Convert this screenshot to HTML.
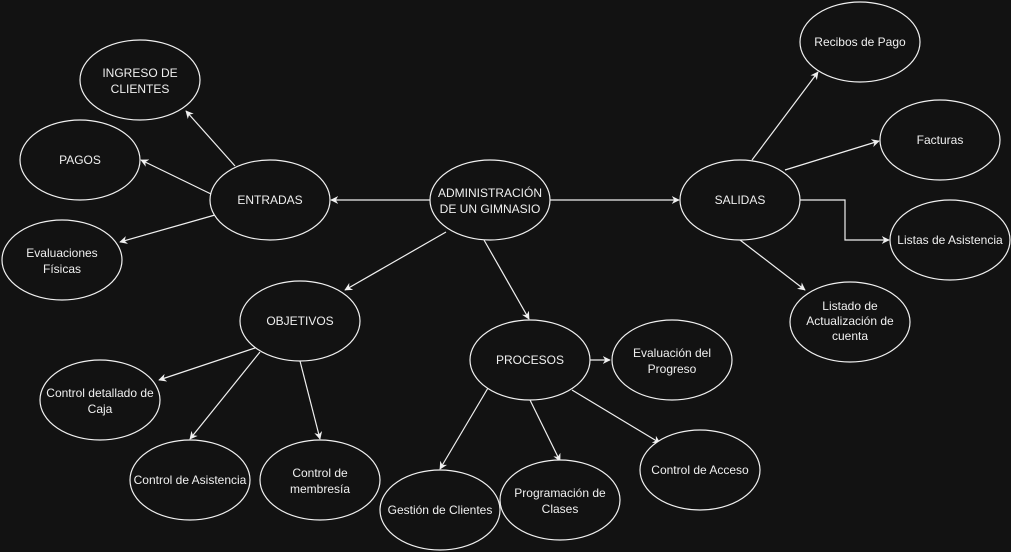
<!DOCTYPE html>
<html><head><meta charset="utf-8"><style>
html,body{margin:0;padding:0;background:#121212;}
svg{display:block}
text{font-family:"Liberation Sans",sans-serif;font-size:12px;fill:#f0f0f0;text-anchor:middle}
</style></head><body>
<svg width="1011" height="552" viewBox="0 0 1011 552" xmlns="http://www.w3.org/2000/svg">
<defs>
<marker id="a" viewBox="0 0 10 10" refX="9" refY="5" markerWidth="8" markerHeight="8" orient="auto" markerUnits="userSpaceOnUse">
<path d="M0,0 L10,5 L0,10 L3,5 z" fill="#f0f0f0"/>
</marker>
</defs>
<rect width="1011" height="552" fill="#121212"/>
<g stroke="#f0f0f0" stroke-width="1.2" fill="none" marker-end="url(#a)">
<line x1="430" y1="200" x2="331" y2="200"/>
<line x1="550" y1="200" x2="679" y2="200"/>
<line x1="235" y1="166" x2="186" y2="111"/>
<line x1="211" y1="194" x2="141" y2="160"/>
<line x1="215" y1="215" x2="120" y2="242"/>
<line x1="752" y1="160" x2="818" y2="72"/>
<line x1="785" y1="170" x2="879" y2="141"/>
<polyline points="800,200 845,200 845,240 889,240"/>
<line x1="740" y1="240" x2="805" y2="290"/>
<line x1="446" y1="232" x2="345" y2="290"/>
<line x1="484" y1="240" x2="529" y2="319"/>
<line x1="255" y1="348" x2="159" y2="380"/>
<line x1="260" y1="352" x2="190" y2="439"/>
<line x1="300" y1="361" x2="320" y2="439"/>
<line x1="590" y1="360" x2="610" y2="360"/>
<line x1="488" y1="388" x2="440" y2="469"/>
<line x1="530" y1="400" x2="560" y2="461"/>
<line x1="572" y1="390" x2="660" y2="443"/>
</g>
<g stroke="#f0f0f0" stroke-width="1.2" fill="#121212">
<ellipse cx="490" cy="200" rx="60" ry="40"/>
<ellipse cx="270" cy="200" rx="60" ry="40"/>
<ellipse cx="740" cy="200" rx="60" ry="40"/>
<ellipse cx="140" cy="80" rx="60" ry="40"/>
<ellipse cx="80" cy="160" rx="60" ry="40"/>
<ellipse cx="62" cy="260" rx="60" ry="40"/>
<ellipse cx="860" cy="42" rx="60" ry="40"/>
<ellipse cx="940" cy="140" rx="60" ry="40"/>
<ellipse cx="950" cy="240" rx="60" ry="40"/>
<ellipse cx="850" cy="322" rx="60" ry="40"/>
<ellipse cx="300" cy="321" rx="60" ry="40"/>
<ellipse cx="530" cy="360" rx="60" ry="40"/>
<ellipse cx="672" cy="360" rx="60" ry="40"/>
<ellipse cx="100" cy="400" rx="60" ry="40"/>
<ellipse cx="190" cy="480" rx="60" ry="40"/>
<ellipse cx="320" cy="480" rx="60" ry="40"/>
<ellipse cx="440" cy="510" rx="60" ry="40"/>
<ellipse cx="560" cy="500" rx="60" ry="40"/>
<ellipse cx="700" cy="470" rx="60" ry="40"/>
</g>
<text x="490" y="197">ADMINISTRACIÓN</text>
<text x="490" y="213">DE UN GIMNASIO</text>
<text x="270" y="204">ENTRADAS</text>
<text x="740" y="204">SALIDAS</text>
<text x="140" y="77">INGRESO DE</text>
<text x="140" y="93">CLIENTES</text>
<text x="80" y="164">PAGOS</text>
<text x="62" y="257">Evaluaciones</text>
<text x="62" y="273">Físicas</text>
<text x="860" y="46">Recibos de Pago</text>
<text x="940" y="144">Facturas</text>
<text x="950" y="244">Listas de Asistencia</text>
<text x="850" y="310">Listado de</text>
<text x="850" y="325">Actualización de</text>
<text x="850" y="340">cuenta</text>
<text x="300" y="325">OBJETIVOS</text>
<text x="530" y="364">PROCESOS</text>
<text x="672" y="357">Evaluación del</text>
<text x="672" y="373">Progreso</text>
<text x="100" y="397">Control detallado de</text>
<text x="100" y="413">Caja</text>
<text x="190" y="484">Control de Asistencia</text>
<text x="320" y="477">Control de</text>
<text x="320" y="493">membresía</text>
<text x="440" y="514">Gestión de Clientes</text>
<text x="560" y="497">Programación de</text>
<text x="560" y="513">Clases</text>
<text x="700" y="474">Control de Acceso</text>
</svg>
</body></html>
